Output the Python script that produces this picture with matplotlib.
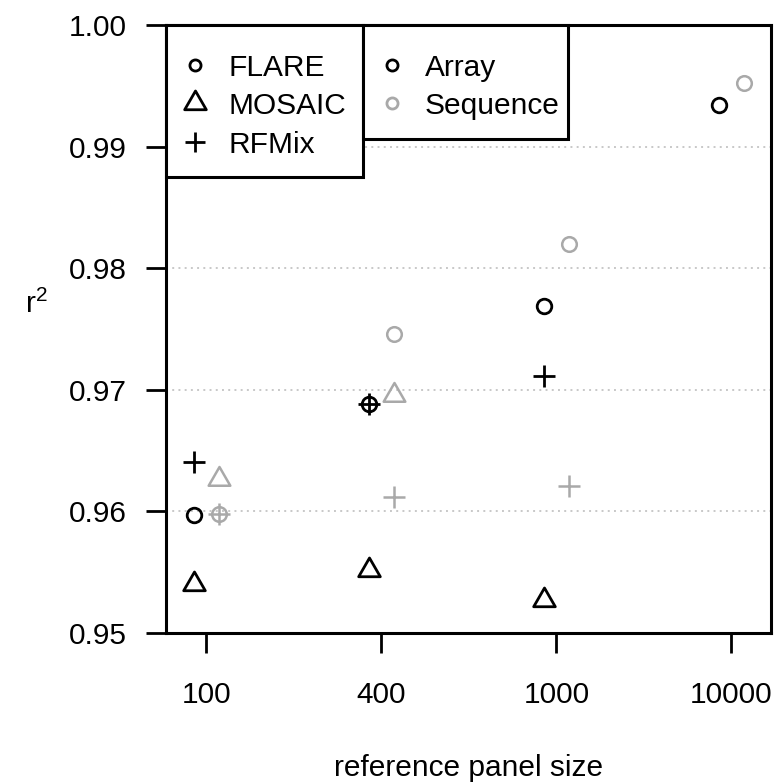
#!/usr/bin/env python3
"""r^2 versus reference panel size for FLARE / MOSAIC / RFMix"""
import matplotlib
matplotlib.use('Agg')
import matplotlib.pyplot as plt
from matplotlib.patches import Rectangle
from matplotlib.path import Path

plt.rcParams['font.family'] = ['Liberation Sans', 'DejaVu Sans']

# ---- data ----
panel_sizes = ['100', '400', '1000', '10000']
flare_array = [0.9597, 0.9688, 0.9769, 0.99345]
flare_seq = [0.9598, 0.97455, 0.9820, 0.99525]
mosaic_array = [0.9540, 0.9552, 0.9527]
mosaic_seq = [0.9627, 0.9696]
rfmix_array = [0.9641, 0.9688, 0.9711]
rfmix_seq = [0.9598, 0.9612, 0.9621]

method_names = ['FLARE', 'MOSAIC', 'RFMix']
data_names = ['Array', 'Sequence']

# ---- layout ----
group_pos = [1, 2, 3, 4]
shift = 0.071
GRAY = '#a9a9a9'
FS = 21.5

# R style open triangle (centroid at origin)
tri = Path([(-1, -0.577), (1, -0.577), (0, 1.155), (-1, -0.577)],
           [Path.MOVETO, Path.LINETO, Path.LINETO, Path.CLOSEPOLY])

fig = plt.figure(figsize=(7.79, 7.84), dpi=100)
ax = fig.add_axes([0.2131, 0.1926, 0.7766, 0.7755])


def draw(vals, side, color, marker, ms, mew):
    xs = [group_pos[i] + side * shift for i in range(len(vals))]
    ax.plot(xs, vals, ls='none', marker=marker, ms=ms, mfc='none',
            mec=color, mew=mew, zorder=3)


# array (black, left) and sequence (gray, right)
draw(flare_array, -1, 'black', 'o', 10.5, 2.0)
draw(flare_seq, 1, GRAY, 'o', 10.5, 1.8)
draw(mosaic_array, -1, 'black', tri, 18, 2.0)
draw(mosaic_seq, 1, GRAY, tri, 18, 1.8)
draw(rfmix_array, -1, 'black', '+', 16, 2.0)
draw(rfmix_seq, 1, GRAY, '+', 16, 1.8)

ax.set_xlim(0.769, 4.226)
ax.set_ylim(0.95, 1.00)
ax.set_xticks(group_pos)
ax.set_xticklabels(panel_sizes)
ax.set_yticks([0.95, 0.96, 0.97, 0.98, 0.99, 1.00])
ax.set_yticklabels(['0.95', '0.96', '0.97', '0.98', '0.99', '1.00'])

for g in [0.96, 0.97, 0.98, 0.99]:
    ax.axhline(g, color='#c8c8c8', lw=1.4, ls=(0, (1, 2.2)), zorder=1)

for sp in ax.spines.values():
    sp.set_linewidth(2.2)
ax.tick_params(axis='both', length=14.4, width=2.0, labelsize=FS)
ax.tick_params(axis='y', pad=14)
ax.tick_params(axis='x', pad=20)

ax.set_xlabel('reference panel size', fontsize=FS, va='baseline')
ax.xaxis.set_label_coords(0.5, -0.235)
ax.set_ylabel('r$\\mathregular{^2}$', fontsize=FS, rotation=0,
              ha='center', va='center')
ax.yaxis.set_label_coords(-0.215, 0.54)


# ---- legends, drawn R style (boxes in axes fraction) ----
def legend_box(x0, x1, y0, labels, markers, colors, sizes):
    ax.add_patch(Rectangle((x0, y0), x1 - x0, 1 - y0, transform=ax.transAxes,
                           fc='white', ec='black', lw=2.2, zorder=4,
                           clip_on=False))
    rows = [0.934, 0.872, 0.8076]
    for lab, mk, col, ms, yy in zip(labels, markers, colors, sizes, rows):
        ax.plot([x0 + 0.048], [yy], transform=ax.transAxes, ls='none',
                marker=mk, ms=ms, mfc='none', mec=col, mew=2.0,
                zorder=5, clip_on=False)
        ax.text(x0 + 0.1025, yy, lab, transform=ax.transAxes, fontsize=FS,
                ha='left', va='center_baseline', zorder=5)


legend_box(0.0, 0.3256, 0.75, method_names, ['o', tri, '+'],
           ['black'] * 3, [8, 18, 15])
legend_box(0.3256, 0.664, 0.8125, data_names, ['o', 'o'],
           ['black', GRAY], [8, 8])

fig.savefig('out.png', dpi=100)
